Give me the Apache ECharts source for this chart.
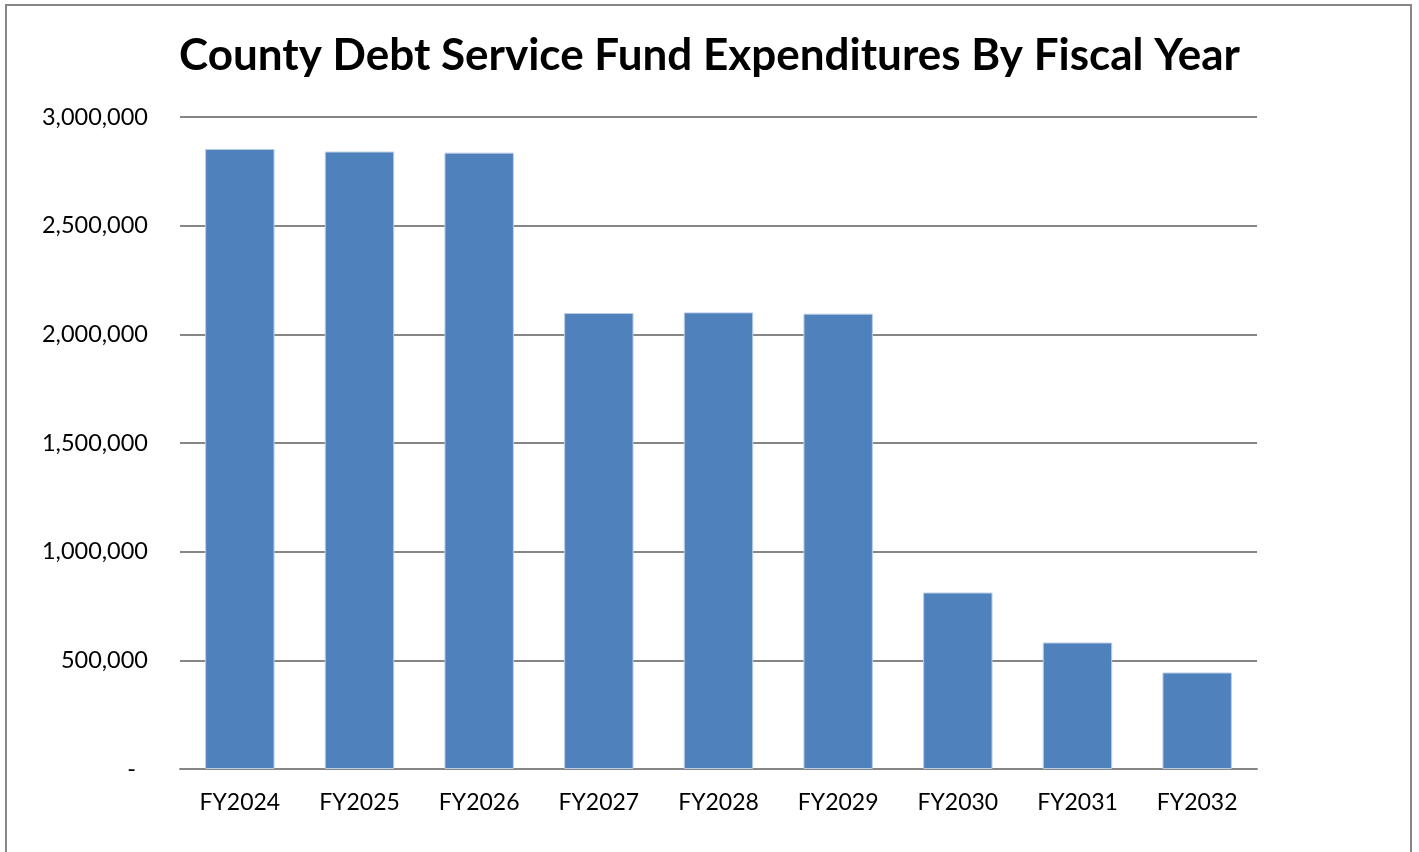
<!DOCTYPE html>
<html>
<head>
<meta charset="utf-8">
<script src="https://cdn.jsdelivr.net/npm/echarts@6/dist/echarts.min.js"></script>
<style>
  html, body { margin: 0; padding: 0; background: #fff; }
  #chart { width: 1419px; height: 852px; }
</style>
</head>
<body>
<div id="chart"></div>
<script>
// Fiscal years and county debt service fund expenditures
const fiscalYears = ['FY2024', 'FY2025', 'FY2026', 'FY2027', 'FY2028', 'FY2029', 'FY2030', 'FY2031', 'FY2032'];
const expenditures = [2853000, 2841000, 2836000, 2098000, 2101000, 2095000, 812000, 582000, 444000];
const titleText = 'County Debt Service Fund Expenditures By Fiscal Year';

const FONT = 'Lato, "Open Sans", sans-serif';

const chart = echarts.init(document.getElementById('chart'), null, { renderer: 'canvas' });

chart.setOption({
  animation: false,
  backgroundColor: '#ffffff',
  title: {
    text: titleText,
    left: 'center',
    top: 29,
    textStyle: { fontFamily: FONT, fontWeight: 'bold', fontSize: 44, color: '#000' }
  },
  graphic: [{
    type: 'rect',
    shape: { x: 6, y: 5, width: 1405, height: 900 },
    style: { fill: 'none', stroke: '#878787', lineWidth: 2 },
    silent: true,
    z: 100
  }],
  grid: { left: 180, right: 162, top: 117, bottom: 83 },
  xAxis: {
    type: 'category',
    data: fiscalYears,
    axisLine: { lineStyle: { color: '#868686', width: 2 } },
    axisTick: { show: false },
    axisLabel: { fontFamily: FONT, fontSize: 23, color: '#000', margin: 22 }
  },
  yAxis: {
    type: 'value',
    min: 0,
    max: 3000000,
    interval: 500000,
    axisLine: { show: false },
    axisTick: { show: false },
    splitLine: { lineStyle: { color: '#868686', width: 2 } },
    axisLabel: {
      fontFamily: FONT,
      fontSize: 23.5,
      color: '#000',
      margin: 32,
      formatter: function (v) {
        if (v === 0) return '{dash|-}';
        return v.toLocaleString('en-US');
      },
      rich: {
        dash: { fontFamily: FONT, fontSize: 23.5, color: '#000', padding: [0, 12, 0, 0] }
      }
    }
  },
  series: [{
    type: 'bar',
    data: expenditures,
    barWidth: '58%',
    itemStyle: { color: '#4F81BD', borderColor: '#B9CDE5', borderWidth: 1 }
  }]
});
</script>
</body>
</html>
